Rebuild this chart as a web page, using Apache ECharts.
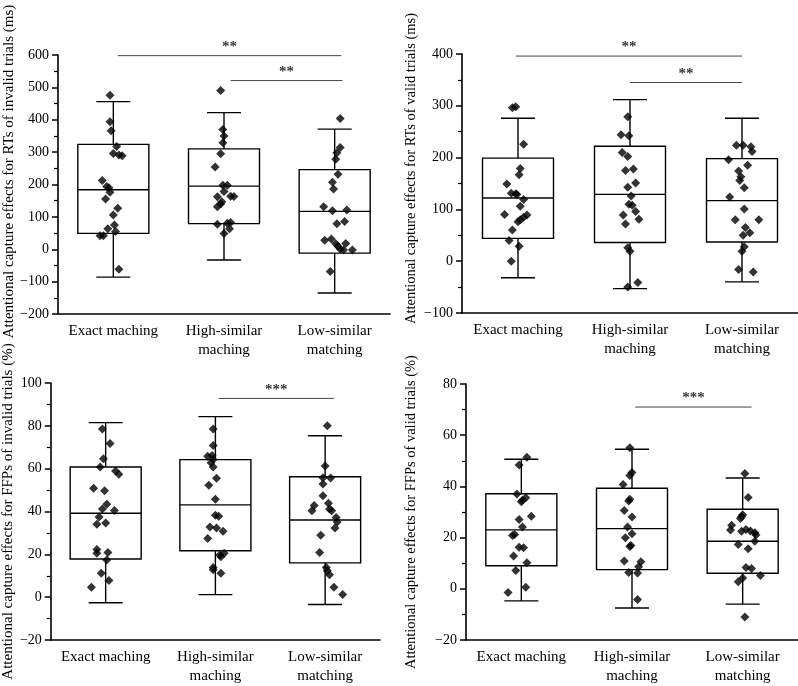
<!DOCTYPE html>
<html>
<head>
<meta charset="utf-8">
<script src="https://cdn.jsdelivr.net/npm/echarts@6/dist/echarts.min.js"></script>
<style>
  html, body { margin: 0; padding: 0; background: #fff; }
  #chart { width: 798px; height: 686px; }
</style>
</head>
<body>
<div id="chart"></div>
<script>
// 类别
const categories = ['Exact maching', 'High-similar\nmaching', 'Low-similar\nmatching'];

// 箱线图统计量 [下须, Q1, 中位数, Q3, 上须]
const rtInvalidBox = [[-86, 49, 184, 324, 456], [-33, 79, 195, 310, 422], [-135, -12, 117, 246, 371]];
const rtValidBox = [[-32, 44, 122, 199, 276], [-53, 36, 129, 222, 312], [-40, 37, 117, 198, 276]];
const ffpInvalidBox = [[-2.6, 17.8, 39.2, 60.8, 81.5], [1.2, 21.7, 43.1, 64.2, 84.3], [-3.4, 16, 36, 56.2, 75.4]];
const ffpValidBox = [[-4.7, 9, 23, 37.1, 50.6], [-7.5, 7.5, 23.5, 39.3, 54.5], [-6, 6.1, 18.6, 31.1, 43.3]];

// 原始数据点
const rtInvalidExact = [476, 394, 366, 317, 296, 291, 289, 212, 194, 190, 176, 155, 127, 106, 75, 63, 55, 42, 42, -62];
const rtInvalidExactJit = [-0.03, -0.03, -0.02, 0.03, 0, 0.05, 0.08, -0.1, -0.06, -0.04, -0.03, -0.07, 0.04, 0, 0.01, -0.05, 0.02, -0.12, -0.09, 0.05];
const rtInvalidHigh = [490, 370, 350, 329, 295, 254, 198, 198, 178, 162, 164, 163, 147, 140, 131, 77, 80, 83, 63, 49];
const rtInvalidHighJit = [-0.03, -0.01, 0, -0.01, -0.03, -0.08, -0.01, 0.03, 0, -0.06, 0.06, 0.09, -0.02, -0.03, -0.06, -0.06, 0.03, 0.06, 0.05, 0];
const rtInvalidLow = [404, 314, 298, 278, 232, 207, 186, 131, 119, 121, 79, 86, 28, 32, 17, 9, 1, -2, 18, -2, -69];
const rtInvalidLowJit = [0.05, 0.05, 0.02, 0.01, 0.03, -0.02, -0.01, -0.1, -0.02, 0.11, 0.02, 0.09, -0.09, -0.03, 0.01, 0.03, 0.05, 0.08, 0.1, 0.16, -0.04];

const rtValidExact = [298, 296, 226, 179, 167, 149, 131, 130, 129, 119, 106, 90, 89, 85, 80, 76, 60, 40, 29, 0];
const rtValidExactJit = [-0.02, -0.05, 0.05, 0.02, 0.01, -0.1, -0.06, -0.02, -0.01, 0.05, 0.02, -0.12, 0.08, 0.05, 0.02, 0, -0.05, -0.08, 0.01, -0.06];
const rtValidHigh = [279, 244, 242, 210, 202, 178, 175, 151, 143, 126, 110, 108, 96, 89, 81, 72, 26, 19, -41, -50];
const rtValidHighJit = [-0.02, -0.08, -0.01, -0.07, -0.02, 0.03, -0.04, 0.05, -0.02, 0.01, -0.01, 0.02, 0.05, -0.06, 0.08, -0.04, -0.02, 0, 0.07, -0.02];
const rtValidLow = [224, 224, 221, 212, 196, 185, 174, 163, 156, 142, 124, 101, 80, 80, 65, 55, 50, 28, 19, -16, -21];
const rtValidLowJit = [-0.05, 0.01, 0.08, 0.09, -0.12, 0.05, -0.03, -0.01, -0.02, 0.02, -0.11, 0.02, -0.06, 0.15, 0.03, 0.07, 0.01, 0.02, 0, -0.03, 0.1];

const ffpInvalidExact = [78.5, 71.7, 64.6, 60.8, 58.9, 57.4, 50.8, 49.7, 43.4, 41.2, 40.5, 37.4, 34, 34.6, 22.3, 20.5, 20.8, 17.4, 11.2, 7.8, 4.6];
const ffpInvalidExactJit = [-0.03, 0.04, -0.02, -0.05, 0.09, 0.12, -0.11, -0.01, 0.01, -0.03, 0.08, -0.06, -0.08, 0, -0.08, -0.08, 0.02, 0.01, -0.04, 0.03, -0.13];
const ffpInvalidHigh = [78.5, 70.8, 65.8, 66.2, 64.3, 62.8, 60.8, 55.5, 52.3, 45.7, 38.2, 37.8, 32.8, 32.3, 30.8, 27.4, 19.7, 20.5, 18.9, 13.8, 12.8, 11.2];
const ffpInvalidHighJit = [-0.02, -0.02, -0.07, -0.03, -0.02, -0.04, -0.02, 0.01, -0.06, 0, 0, 0.03, -0.05, 0.01, 0.07, -0.07, 0.04, 0.08, 0.05, -0.02, -0.02, 0.05];
const ffpInvalidLow = [80, 61.2, 55.8, 55.7, 52.8, 47.4, 43.8, 42.8, 40.3, 41.2, 40.3, 37.2, 35.1, 32.3, 28.9, 20.8, 13.8, 12.3, 10.5, 4.6, 1.2];
const ffpInvalidLowJit = [0.02, 0, -0.02, 0.05, -0.02, -0.02, 0.03, -0.1, -0.12, 0.04, 0.06, 0.1, 0.11, 0.09, -0.04, -0.05, 0.01, 0.02, 0.04, 0.08, 0.16];

const ffpValidExact = [51.4, 48.4, 37, 35.6, 34.6, 34, 28.3, 27.1, 24.1, 20.8, 21.2, 16.2, 16, 12.8, 10.2, 7.1, 0.6, -1.4];
const ffpValidExactJit = [0.05, -0.02, -0.04, 0.04, 0.01, 0, 0.09, -0.02, 0.01, -0.08, -0.06, -0.02, 0.02, -0.07, 0.05, -0.05, 0.04, -0.12];
const ffpValidHigh = [55.1, 44.3, 45.4, 40.7, 34.3, 35, 30.6, 28, 24.1, 21.5, 19.9, 16.9, 16.5, 10.9, 10.6, 8.6, 6.4, 6.2, -4.2];
const ffpValidHighJit = [-0.02, -0.02, 0, -0.08, -0.03, -0.02, -0.07, 0, -0.04, 0, -0.06, -0.01, -0.02, -0.07, 0.08, 0.06, -0.03, 0.05, 0.05];
const ffpValidLow = [45, 35.7, 28.9, 28.2, 27.5, 24.8, 23, 22.5, 23.2, 22.6, 21.9, 21, 18.6, 17.3, 15.6, 8.3, 7.9, 4.2, 2.8, 5.2, -11];
const ffpValidLowJit = [0.02, 0.05, 0, -0.01, -0.02, -0.1, -0.11, -0.01, 0.03, 0.07, 0.11, 0.12, 0.11, -0.04, 0.05, 0.03, 0.08, 0, -0.04, 0.16, 0.02];

// 显著性标记 [起点, 终点, 高度, 文本]
const rtInvalidSig = [[0.04, 2.06, 598, '**'], [1.06, 2.07, 521, '**']];
const rtValidSig = [[-0.02, 2.0, 396, '**'], [1.0, 2.0, 345, '**']];
const ffpInvalidSig = [[1.03, 2.08, 92.8, '***']];
const ffpValidSig = [[1.03, 2.08, 71, '***']];

const FONT = "'Liberation Serif', 'Times New Roman', serif";

const panels = [
  {
    title: 'Attentional capture effects for RTs of invalid trials (ms)',
    box: rtInvalidBox,
    groups: [[rtInvalidExact, rtInvalidExactJit], [rtInvalidHigh, rtInvalidHighJit], [rtInvalidLow, rtInvalidLowJit]],
    sig: rtInvalidSig,
    min: -200, max: 600, interval: 100,
    grid: { left: 58, top: 55, width: 332, height: 259 },
    nameGap: 39, namePad: 26, nameSize: 15
  },
  {
    title: 'Attentional capture effects for RTs of valid trials (ms)',
    box: rtValidBox,
    groups: [[rtValidExact, rtValidExactJit], [rtValidHigh, rtValidHighJit], [rtValidLow, rtValidLowJit]],
    sig: rtValidSig,
    min: -100, max: 400, interval: 100,
    grid: { left: 462, top: 54, width: 336, height: 259 },
    nameGap: 43, namePad: 30, nameSize: 14.5
  },
  {
    title: 'Attentional capture effects for FFPs of invalid trials (%)',
    box: ffpInvalidBox,
    groups: [[ffpInvalidExact, ffpInvalidExactJit], [ffpInvalidHigh, ffpInvalidHighJit], [ffpInvalidLow, ffpInvalidLowJit]],
    sig: ffpInvalidSig,
    min: -20, max: 100, interval: 20,
    grid: { left: 50, top: 383, width: 330, height: 260 },
    nameGap: 31, namePad: 0, nameSize: 15
  },
  {
    title: 'Attentional capture effects for FFPs of valid trials (%)',
    box: ffpValidBox,
    groups: [[ffpValidExact, ffpValidExactJit], [ffpValidHigh, ffpValidHighJit], [ffpValidLow, ffpValidLowJit]],
    sig: ffpValidSig,
    min: -20, max: 80, interval: 20,
    grid: { left: 466, top: 384, width: 332, height: 259 },
    nameGap: 47, namePad: 0, nameSize: 14.5
  }
];

// 画箱体（半宽、须帽半宽为样式）
function renderBox(params, api) {
  const i = api.value(0);
  const low = api.coord([i, api.value(1)]);
  const q1 = api.coord([i, api.value(2)]);
  const med = api.coord([i, api.value(3)]);
  const q3 = api.coord([i, api.value(4)]);
  const high = api.coord([i, api.value(5)]);
  const x = med[0];
  const hw = 35.5, cw = 17;
  const st = { stroke: '#000', lineWidth: 1.4 };
  return {
    type: 'group',
    children: [
      { type: 'rect', shape: { x: x - hw, y: q3[1], width: hw * 2, height: q1[1] - q3[1] }, style: { stroke: '#000', fill: 'transparent', lineWidth: 1.4 } },
      { type: 'line', shape: { x1: x - hw, y1: med[1], x2: x + hw, y2: med[1] }, style: st },
      { type: 'line', shape: { x1: x, y1: q3[1], x2: x, y2: high[1] }, style: st },
      { type: 'line', shape: { x1: x, y1: q1[1], x2: x, y2: low[1] }, style: st },
      { type: 'line', shape: { x1: x - cw, y1: high[1], x2: x + cw, y2: high[1] }, style: st },
      { type: 'line', shape: { x1: x - cw, y1: low[1], x2: x + cw, y2: low[1] }, style: st }
    ]
  };
}

const chart = echarts.init(document.getElementById('chart'));
const option = {
  animation: false,
  backgroundColor: '#fff',
  textStyle: { fontFamily: FONT },
  grid: [], xAxis: [], yAxis: [], series: []
};

panels.forEach((p, k) => {
  option.grid.push(Object.assign({ containLabel: false }, p.grid));
  // 类别轴
  option.xAxis.push({
    type: 'category', gridIndex: k, data: categories, position: 'bottom',
    axisLine: { onZero: false, lineStyle: { color: '#000', width: 1.6 } },
    axisTick: { alignWithLabel: true, length: 5, lineStyle: { color: '#000', width: 1.5 } },
    axisLabel: { color: '#000', fontFamily: FONT, fontSize: 15, lineHeight: 19, margin: 8, interval: 0 },
    splitLine: { show: false }
  });
  // 隐藏的数值轴，用于抖动点和显著性线
  option.xAxis.push({ type: 'value', gridIndex: k, min: -0.5, max: 2.5, show: false, axisLine: { onZero: false } });
  let pad = [0, 0, 0, 0];
  if (p.namePad > 0) pad = [0, 0, 0, p.namePad];
  else if (p.namePad < 0) pad = [0, -p.namePad, 0, 0];
  option.yAxis.push({
    type: 'value', gridIndex: k, min: p.min, max: p.max, interval: p.interval, position: 'left',
    name: p.title, nameLocation: 'middle', nameGap: p.nameGap,
    nameTextStyle: { color: '#000', fontFamily: FONT, fontSize: p.nameSize, padding: pad },
    axisLine: { show: true, onZero: false, lineStyle: { color: '#000', width: 1.6 } },
    axisTick: { show: true, length: 6, lineStyle: { color: '#000', width: 1.5 } },
    minorTick: { show: true, splitNumber: 2, length: 4, lineStyle: { color: '#000', width: 1.2 } },
    axisLabel: { color: '#000', fontFamily: FONT, fontSize: 14, margin: 9, formatter: v => String(v).replace('-', '\u2212') },
    splitLine: { show: false }
  });

  option.series.push({
    type: 'custom', xAxisIndex: 2 * k, yAxisIndex: k,
    renderItem: renderBox,
    encode: { x: 0, y: [1, 2, 3, 4, 5] },
    data: p.box.map((b, i) => [i].concat(b)),
    z: 2
  });

  const pts = [];
  p.groups.forEach((g, i) => {
    g[0].forEach((v, j) => pts.push([i + g[1][j], v]));
  });
  option.series.push({
    type: 'scatter', xAxisIndex: 2 * k + 1, yAxisIndex: k,
    symbol: 'diamond', symbolSize: 9,
    itemStyle: { color: '#000' },
    data: pts, z: 3
  });

  p.sig.forEach(s => {
    option.series.push({
      type: 'line', xAxisIndex: 2 * k + 1, yAxisIndex: k,
      data: [[s[0], s[2]], [s[1], s[2]]],
      symbol: 'none', silent: true,
      lineStyle: { color: '#444', width: 1 }, z: 3
    });
    option.series.push({
      type: 'scatter', xAxisIndex: 2 * k + 1, yAxisIndex: k,
      data: [[(s[0] + s[1]) / 2, s[2]]],
      symbolSize: 0, silent: true,
      label: { show: true, position: 'top', distance: 1, formatter: s[3], color: '#000', fontFamily: FONT, fontSize: 15, fontWeight: 'bold' },
      z: 3
    });
  });
});

chart.setOption(option);
</script>
</body>
</html>
